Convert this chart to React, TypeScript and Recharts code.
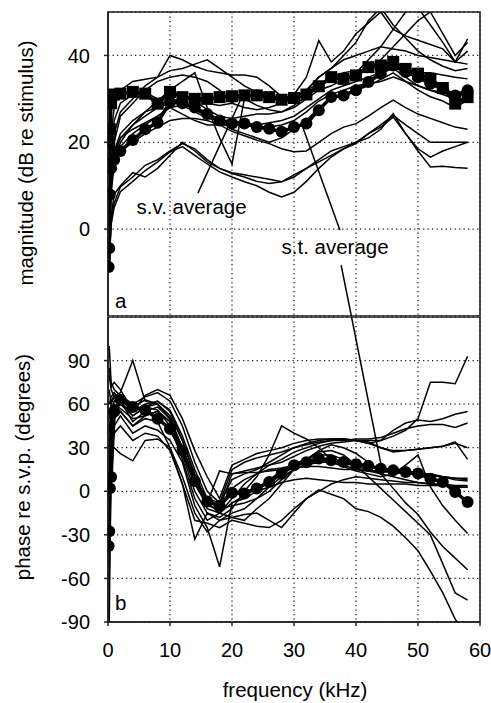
import React from 'react';
import { LineChart, Line, XAxis, YAxis, CartesianGrid, ReferenceArea, ReferenceLine } from 'recharts';

// frequencies (kHz) of individual curves
const FREQ = [0.2, 0.5, 1, 2, 4, 6, 8, 10, 12, 14, 16, 18, 20, 22, 24, 26, 28, 30, 32, 34, 36, 38, 40, 42, 44, 46, 48, 50, 52, 54, 56, 58];
// frequencies (kHz) of the averages
const AVG_FREQ = [0.1, 0.2, 0.3, 0.5, 1, 2, 4, 6, 8, 10, 12, 14, 16, 18, 20, 22, 24, 26, 28, 30, 32, 34, 36, 38, 40, 42, 44, 46, 48, 50, 52, 54, 56, 58];

const X_TICKS = [0, 10, 20, 30, 40, 50, 60];
const MAG_TICKS = [0, 20, 40];
const PHASE_TICKS = [-90, -60, -30, 0, 30, 60, 90];

// magnitude (dB re stimulus), individual curves
const MAG_1 = [8, 22, 28, 32, 34, 34.5, 35, 40, 39, 37.5, 36.5, 36, 35.5, 35.5, 35, 33, 30.5, 30, 32, 35, 37, 39, 40, 41, 42, 41.5, 41, 40, 39.5, 39, 38.5, 38];
const MAG_2 = [2, 15, 22, 27, 30, 33, 35, 36.5, 37, 38, 39, 37, 35, 33, 31.5, 30.5, 30, 31, 35, 43.4, 38.5, 41, 45, 47.5, 50, 46, 44.5, 43.5, 42.5, 41.5, 38.5, 43.8];
const MAG_3 = [-5, 10, 20, 26, 29, 32, 34, 35, 35.5, 35, 34, 32, 29, 31.5, 32, 31, 30, 30.5, 32, 35, 37, 40, 43, 48, 51, 47, 44, 41, 39, 37.5, 36.5, 37];
const MAG_4 = [0, 12, 18, 22, 25, 27, 29.5, 32, 34, 36, 28, 21, 15, 30, 28.5, 27.5, 27, 28, 30, 32, 33, 34.5, 36, 39, 42, 46, 50, 51, 47, 43, 38.5, 41];
const MAG_5 = [4, 18, 25, 29, 31, 31.5, 30, 31, 31, 30, 29, 28.5, 29, 28, 27.5, 28, 29, 30, 32, 33.5, 34, 35, 35.5, 37, 39, 42, 45, 48, 50, 45, 40, 43];
const MAG_6 = [-2, 8, 15, 20, 24, 27, 28, 29, 30.5, 29.5, 27.5, 26, 25.5, 26, 26.5, 26.5, 27, 28.5, 30.5, 33, 35, 36, 36.5, 37, 37.5, 37, 36.5, 36, 36, 35.5, 35, 34.6];
const MAG_7 = [6, 14, 18, 21, 23, 24.5, 26, 28, 28.5, 27, 25.5, 25, 25, 24.5, 24, 24.5, 25, 26, 28, 30, 32, 33, 34, 35, 36, 37, 35, 33, 32, 31.5, 31, 31];
const MAG_8 = [-3, 10, 16, 19, 22, 24, 26, 28, 26.5, 25, 24, 24, 24, 24, 23.5, 23.5, 24, 25, 27, 29.5, 31, 32, 33, 33.5, 34, 35, 34, 32, 30.5, 29.5, 28, 29.7];
const MAG_9 = [3, 12, 16, 18, 20, 22, 23.5, 25, 25.5, 25.5, 25, 24, 22.5, 21.5, 20.5, 19.7, 18.5, 17.8, 18, 20, 22, 23.5, 24.3, 26, 28, 29.7, 28, 26.5, 25.5, 24.5, 23.5, 23];
const MAG_10 = [-8, 2, 6, 9.7, 12, 14.7, 16, 18, 19.7, 18.5, 16, 14, 13, 12.5, 12, 11.5, 10.9, 12, 14, 16, 18, 19, 20, 21, 23, 26.6, 22, 18, 14.3, 14.5, 14.2, 14];
const MAG_11 = [-6, 1, 5, 8.6, 11, 13.5, 15.5, 17.8, 19, 17, 15, 13.2, 12, 10.9, 10, 8.5, 7.4, 8.5, 11, 14, 16.6, 18.5, 20, 22, 23.5, 25.8, 22, 18.5, 16.6, 18, 19, 20];
const MAG_12 = [-10, 3, 8, 10, 13, 12, 14, 17, 20, 18, 15.5, 14, 12.8, 12, 11, 10.5, 10.9, 12.5, 14, 15.5, 17, 18.5, 19.7, 22, 24, 26.2, 24, 22, 20, 20, 20, 20];
const MAG_13 = [1, 11, 17, 21, 24, 26, 28, 30, 29, 27.5, 26, 25, 23, 22, 21, 20, 21, 23, 25, 28, 30, 31, 32, 33, 34.5, 36, 34, 33, 32, 31, 30, 32];

// magnitude averages
const MAG_SV_AVG = [15, 20, 23, 29, 31, 31.2, 31.6, 31.2, 28.9, 31.6, 30.4, 30, 30, 30.4, 30.6, 30.8, 30.8, 30.4, 29.8, 30.2, 31, 32.9, 35, 34.6, 35.4, 37.3, 37.7, 38.5, 36.9, 35.8, 34.6, 32.5, 28.9, 30.4];
const MAG_ST_AVG = [-8.7, -4.4, 8, 14, 16, 18, 20.5, 23, 24.5, 29.3, 29, 28, 26.5, 25, 24.3, 24.3, 23.5, 23.1, 22.4, 23.5, 24.3, 27.4, 30.4, 30.8, 32, 33.9, 35.8, 37.7, 36.2, 35, 33.5, 32.3, 30.8, 32];

// phase re s.v.p. (degrees), individual curves
const PH_1 = [30, 55, 62, 65, 58, 63, 60, 50, 30, 5, -10, -12, 12, 14, 16, 18, 20, 24, 28, 31, 33, 34, 35, 35, 35, 38, 42, 50, 75, 75, 74, 93];
const PH_2 = [80, 70, 65, 60, 52, 58, 62, 55, 35, 10, -12, -15, -5, 5, 12, 18, 22, 27, 30, 33, 35, 36, 35, 33, 35, 42, 47, 49, 48, 50, 53, 55];
const PH_3 = [100, 75, 70, 66, 60, 65, 68, 62, 45, 20, 0, -8, 15, 20, 23, 25, 27, 30, 32, 34, 35, 35, 36, 36, 37, 40, 43, 45, 46, 46, 44, 47];
const PH_4 = [60, 65, 68, 62, 48, 55, 58, 50, 30, 8, -5, -8, 8, 12, 15, 20, 25, 30, 33, 35, 36, 36, 35, 33, 30, 28, 28, 29, 30, 31, 34, 22];
const PH_5 = [20, 50, 60, 57, 50, 52, 55, 48, 25, 0, -15, -18, -12, 0, 10, 25, 45, 40, 36, 30, 22, 18, 15, 14, 14, 13, 12, 12, 11, 10, 9, 9];
const PH_6 = [50, 60, 65, 68, 90, 62, 60, 52, 35, 12, -8, -10, 2, 8, 12, 15, 16, 18, 19, 20, 20, 19, 18, 17, 16, 15, 14, 12, 11, 10, 9, 8];
const PH_7 = [-20, 40, 55, 60, 55, 58, 56, 45, 22, -5, -20, -15, -8, -5, 0, 3, 6, 8, 9, 8, 7, 6, 6, 5, 5, 5, 5, 4, 4, 4, 3, 3];
const PH_8 = [-50, 30, 45, 52, 40, 45, 42, 35, 20, -10, -25, -52, -8, -3, 2, 8, 14, 19, 22, 25, 25, 22, 18, 14, 12, 10, 8, 6, 5, 4, 3, 3];
const PH_9 = [10, 40, 50, 55, 45, 50, 48, 30, 5, -33, -15, -20, -15, -12, -5, 3, 10, 15, 18, 20, 20, 17, 14, 12, 10, 12, 18, 25, 3, -10, -20, -29];
const PH_10 = [-90, 25, 40, 45, 35, 40, 38, 28, 5, -20, -22, -25, -20, -22, -24, -25, -20, -12, -5, 1, -2, -5, -12, -14, -18, -24, -32, -41, -55, -70, -88, -100];
const PH_11 = [70, 60, 58, 55, 45, 52, 55, 48, 30, 8, -8, -15, -18, -20, -12, -5, 5, 15, 22, 27, 28, 25, 18, 10, 2, -6, -14, -22, -30, -50, -70, -75];
const PH_12 = [40, 62, 66, 63, 55, 60, 62, 56, 38, 15, -5, -12, -10, -8, -5, 0, 8, 15, 22, 28, 32, 30, 26, 20, 12, 2, -8, -16, -28, -38, -46, -54];
const PH_13 = [0, 45, 58, 62, 52, 58, 60, 50, 28, 5, -8, 14, 12, 13, 13, 14, 15, 16, 17, 17, 16, 15, 15, 14, 14, 13, 12, 12, 12, 10, 8, 7];
const PH_14 = [-60, 28, 30, 26, 21, 35, 36, 30, 10, -15, -28, -20, -18, -16, -15, -20, -25, -15, -5, 0, 5, 8, 10, 9, 8, 7, 6, 6, 5, 5, 4, 4];
const PH_15 = [85, 72, 75, 70, 55, 66, 70, 66, 50, 28, 10, -5, 18, 22, 26, 28, 30, 33, 35, 36, 36, 36, 35, 34, 30, 27, 28, 29, 30, 31, 33, 30];

// phase average
const PH_ST_AVG = [-37.6, -27.5, 2, 9.8, 55, 63, 58, 56, 50, 43, 28, 7, -7, -10, -1, -1.5, 2, 6.4, 12, 18, 20, 22.5, 21.3, 20.2, 18.6, 17.5, 15.6, 14.4, 13.3, 12.2, 8.7, 6.4, -0.5, -7.4];

const MAG_LINES = [MAG_1, MAG_2, MAG_3, MAG_4, MAG_5, MAG_6, MAG_7, MAG_8, MAG_9, MAG_10, MAG_11, MAG_12, MAG_13];
const PH_LINES = [PH_1, PH_2, PH_3, PH_4, PH_5, PH_6, PH_7, PH_8, PH_9, PH_10, PH_11, PH_12, PH_13, PH_14, PH_15];

const toPts = (fs: number[], vs: number[]) => fs.map((f, i) => ({ f, v: vs[i] }));

const FONT = '"Liberation Sans", Arial, Helvetica, sans-serif';
const INK = '#000';
const tickStyle = { fill: INK, fontSize: 20, fontFamily: FONT };

const SquareDot = (props: any) => {
  const { cx, cy } = props;
  if (cx == null || cy == null) return null;
  return <rect x={cx - 6} y={cy - 6} width={12} height={12} fill="#000" />;
};

export default function App() {
  return (
    <div style={{ position: 'absolute', left: 0, top: 0, width: 491, height: 703, background: '#fff', fontFamily: FONT }}>
      <div style={{ position: 'absolute', left: 0, top: 0 }}>
        <LineChart width={491} height={316} margin={{ top: 12, right: 11, left: 0, bottom: 0 }}>
          <CartesianGrid stroke="#222" strokeWidth={1.3} strokeDasharray="1.3 3.2" />
          <XAxis type="number" dataKey="f" domain={[0, 60]} ticks={X_TICKS} hide allowDataOverflow />
          <YAxis
            type="number"
            domain={[-20, 50]}
            ticks={MAG_TICKS}
            width={108}
            allowDataOverflow
            axisLine={{ stroke: '#222', strokeWidth: 1.6 }}
            tickLine={{ stroke: '#222', strokeWidth: 1.5 }}
            tickSize={4}
            tickMargin={14}
            tick={tickStyle}
          />
          {MAG_LINES.map((vals, i) => (
            <Line key={'m' + i} data={toPts(FREQ, vals)} dataKey="v" stroke="#000" strokeWidth={1.5} dot={false} activeDot={false} isAnimationActive={false} />
          ))}
          <Line data={toPts(AVG_FREQ, MAG_SV_AVG)} dataKey="v" stroke="#000" strokeWidth={3.5} dot={<SquareDot />} activeDot={false} isAnimationActive={false} />
          <Line data={toPts(AVG_FREQ, MAG_ST_AVG)} dataKey="v" stroke="#000" strokeWidth={3.5} dot={{ r: 6, fill: '#000', stroke: '#000', strokeWidth: 0 }} activeDot={false} isAnimationActive={false} />
          <ReferenceLine segment={[{ x: 14.5, y: 8.3 }, { x: 21.3, y: 29.5 }]} stroke="#000" strokeWidth={1.5} ifOverflow="visible" />
          <ReferenceLine segment={[{ x: 37.4, y: -0.2 }, { x: 31.4, y: 23.5 }]} stroke="#000" strokeWidth={1.5} ifOverflow="visible" />
          <ReferenceLine segment={[{ x: 37.6, y: -8.3 }, { x: 39.25, y: -20 }]} stroke="#000" strokeWidth={1.5} ifOverflow="visible" />
          <ReferenceArea x1={0} x2={60} y1={-20} y2={50} fill="none" fillOpacity={0} stroke="#222" strokeWidth={1.6} ifOverflow="visible" />
        </LineChart>
      </div>
      <div style={{ position: 'absolute', left: 0, top: 310 }}>
        <LineChart width={491} height={352} margin={{ top: 7, right: 11, left: 0, bottom: 0 }}>
          <CartesianGrid stroke="#222" strokeWidth={1.3} strokeDasharray="1.3 3.2" />
          <XAxis
            type="number"
            dataKey="f"
            domain={[0, 60]}
            ticks={X_TICKS}
            height={40}
            allowDataOverflow
            axisLine={{ stroke: '#222', strokeWidth: 1.6 }}
            tickLine={{ stroke: '#222', strokeWidth: 1.5 }}
            tickSize={4}
            tickMargin={17}
            tick={tickStyle}
          />
          <YAxis
            type="number"
            domain={[-90, 120]}
            ticks={PHASE_TICKS}
            width={108}
            allowDataOverflow
            axisLine={{ stroke: '#222', strokeWidth: 1.6 }}
            tickLine={{ stroke: '#222', strokeWidth: 1.5 }}
            tickSize={4}
            tickMargin={14}
            tick={tickStyle}
          />
          {PH_LINES.map((vals, i) => (
            <Line key={'p' + i} data={toPts(FREQ, vals)} dataKey="v" stroke="#000" strokeWidth={1.5} dot={false} activeDot={false} isAnimationActive={false} />
          ))}
          <Line data={toPts(AVG_FREQ, PH_ST_AVG)} dataKey="v" stroke="#000" strokeWidth={3.5} dot={{ r: 6, fill: '#000', stroke: '#000', strokeWidth: 0 }} activeDot={false} isAnimationActive={false} />
          <ReferenceLine segment={[{ x: 39.28, y: 120 }, { x: 44.1, y: 17 }]} stroke="#000" strokeWidth={1.5} ifOverflow="visible" />
          <ReferenceArea x1={0} x2={60} y1={-90} y2={120} fill="none" fillOpacity={0} stroke="#222" strokeWidth={1.6} ifOverflow="visible" />
        </LineChart>
      </div>
      <svg width={491} height={703} style={{ position: 'absolute', left: 0, top: 0, pointerEvents: 'none' }}>
        <g fontFamily={FONT} fill={INK} fontSize={20.5}>
          <text x={136.5} y={214}>s.v. average</text>
          <text x={281.5} y={254}>s.t. average</text>
          <text x={115} y={308}>a</text>
          <text x={115} y={610}>b</text>
          <text x={295} y={697} textAnchor="middle">frequency (kHz)</text>
          <text transform="translate(33,163) rotate(-90)" textAnchor="middle">magnitude (dB re stimulus)</text>
          <text transform="translate(30,467) rotate(-90)" textAnchor="middle">phase re s.v.p. (degrees)</text>
        </g>
      </svg>
    </div>
  );
}
